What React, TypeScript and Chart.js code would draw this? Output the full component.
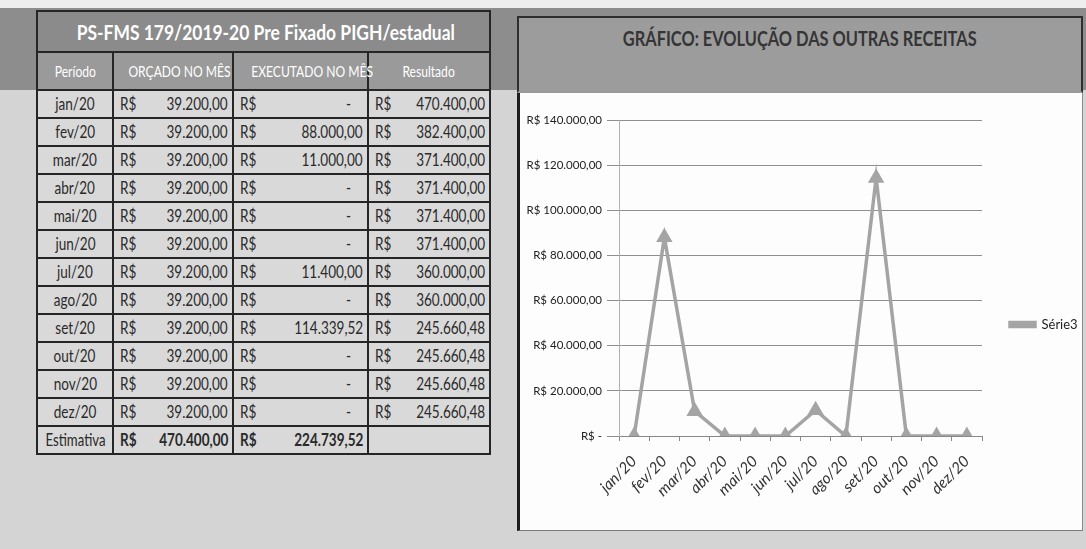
import React, { useEffect, useRef } from "react";
import { Chart, registerables } from "chart.js";

Chart.register(...registerables);

// ---------- data ----------
const months = ["jan/20", "fev/20", "mar/20", "abr/20", "mai/20", "jun/20", "jul/20", "ago/20", "set/20", "out/20", "nov/20", "dez/20"];
const orcado = [39200, 39200, 39200, 39200, 39200, 39200, 39200, 39200, 39200, 39200, 39200, 39200];
const executado = [0, 88000, 11000, 0, 0, 0, 11400, 0, 114339.52, 0, 0, 0];
const resultado = [470400, 382400, 371400, 371400, 371400, 371400, 360000, 360000, 245660.48, 245660.48, 245660.48, 245660.48];
const totalOrcado = 470400;
const totalExecutado = 224739.52;
const headers = ["Período", "ORÇADO NO MÊS", "EXECUTADO NO MÊS", "Resultado"];
const tableTitle = "PS-FMS 179/2019-20 Pre Fixado PIGH/estadual";
const chartTitle = "GRÁFICO: EVOLUÇÃO DAS OUTRAS RECEITAS";
const seriesName = "Série3";
const yMax = 140000;
const yStep = 20000;

const FONT = "Lato,'Noto Sans',sans-serif";
const LINE = "#a4a4a4";

function brl(n: number): string {
  const fixed = n.toFixed(2);
  const [i, d] = fixed.split(".");
  return i.replace(/\B(?=(\d{3})+(?!\d))/g, ".") + "," + d;
}

const LEGEND_W = 98;
const legendWidthPlugin = {
  id: "legendWidth",
  beforeLayout(chart: any) {
    const lg: any = chart.legend;
    if (lg && !lg._patchedW) {
      const orig = lg.fit.bind(lg);
      lg.fit = function () {
        orig();
        this.width = LEGEND_W;
      };
      lg._patchedW = true;
    }
  },
};

function LineChart() {
  const ref = useRef<HTMLCanvasElement | null>(null);
  useEffect(() => {
    if (!ref.current) return;
    const chart = new Chart(ref.current, {
      type: "line",
      data: {
        labels: months,
        datasets: [
          {
            label: seriesName,
            data: executado,
            borderColor: LINE,
            backgroundColor: LINE,
            borderWidth: 3.5,
            pointStyle: "triangle",
            pointRadius: 6,
            pointHoverRadius: 6,
            tension: 0,
          },
        ],
      },
      options: {
        animation: false,
        responsive: false,
        layout: { padding: { top: 25, right: 0, bottom: 0, left: 0 } },
        plugins: {
          legend: {
            position: "right",
            labels: {
              padding: 28,
              boxWidth: 25,
              boxHeight: 4,
              color: "#222",
              font: { size: 13, family: FONT },
            },
          },
          tooltip: { enabled: false },
        },
        scales: {
          x: {
            offset: true,
            grid: { offset: true, drawOnChartArea: false, drawTicks: true, tickLength: 5, color: "#888" },
            border: { color: "#888" },
            ticks: {
              minRotation: 45,
              maxRotation: 45,
              autoSkip: false,
              color: "#333",
              padding: 11,
              font: { size: 15.5, style: "italic", family: FONT },
            },
            afterFit: (s: any) => {
              s.height = 93;
            },
          },
          y: {
            min: 0,
            max: yMax,
            ticks: {
              stepSize: yStep,
              color: "#222",
              padding: 5,
              font: { size: 11.5, family: FONT },
              callback: (v: any) => (Number(v) === 0 ? "R$ -" : "R$ " + brl(Number(v))),
            },
            grid: { color: "#8f8f8f", tickLength: 12, drawTicks: true },
            border: { color: "#b0b0b0" },
            afterFit: (s: any) => {
              s.width = 99;
            },
          },
        },
      } as any,
      plugins: [legendWidthPlugin as any],
    });
    return () => chart.destroy();
  }, []);
  return <canvas ref={ref} width={560} height={434} style={{ display: "block" }} />;
}

function Sq({ children, sx, origin }: { children: any; sx: number; origin: string }) {
  return (
    <span style={{ display: "inline-block", transform: `scaleX(${sx})`, transformOrigin: origin, whiteSpace: "nowrap" }}>
      {children}
    </span>
  );
}

const cellBorder = "2px solid #262626";
const SX = 0.82;

function Money({ v, bold }: { v: number; bold?: boolean }) {
  return (
    <td style={{ border: cellBorder, padding: 0, background: "#d9d9d9" }}>
      <div style={{ display: "flex", justifyContent: "space-between", alignItems: "center", padding: "0 4px 0 6px", fontWeight: bold ? 700 : 400, whiteSpace: "nowrap" }}>
        <Sq sx={SX} origin="left center">R$</Sq>
        <span style={{ paddingRight: v === 0 ? 12 : 0 }}>
          <Sq sx={SX} origin="right center">{v === 0 ? "-" : brl(v)}</Sq>
        </span>
      </div>
    </td>
  );
}

function DataTable() {
  const rowH = 28;
  return (
    <table
      style={{
        position: "absolute",
        left: 36,
        top: 10,
        width: 453,
        borderCollapse: "collapse",
        tableLayout: "fixed",
        fontFamily: FONT,
        color: "#2a2a2a",
        fontSize: 16.5,
      }}
    >
      <colgroup>
        <col style={{ width: 76 }} />
        <col style={{ width: 120 }} />
        <col style={{ width: 135 }} />
        <col style={{ width: 122 }} />
      </colgroup>
      <tbody>
        <tr style={{ height: 41 }}>
          <td colSpan={4} style={{ border: cellBorder, background: "#8b8b8b", color: "#fff", fontWeight: 700, fontSize: 21, textAlign: "center", padding: 0, whiteSpace: "nowrap" }}>
            <Sq sx={0.83} origin="center center">{tableTitle}</Sq>
          </td>
        </tr>
        <tr style={{ height: 38 }}>
          {headers.map((h) => (
            <td key={h} style={{ border: cellBorder, background: "#9a9a9a", color: "#fff", fontSize: 15.5, textAlign: "center", padding: 0, whiteSpace: "nowrap" }}>
              <Sq sx={0.78} origin="center center">{h}</Sq>
            </td>
          ))}
        </tr>
        {months.map((m, i) => (
          <tr key={m} style={{ height: rowH }}>
            <td style={{ border: cellBorder, background: "#d9d9d9", textAlign: "center", padding: 0 }}>
              <Sq sx={SX} origin="center center">{m}</Sq>
            </td>
            <Money v={orcado[i]} />
            <Money v={executado[i]} />
            <Money v={resultado[i]} />
          </tr>
        ))}
        <tr style={{ height: rowH }}>
          <td style={{ border: cellBorder, background: "#d9d9d9", textAlign: "center", padding: 0, whiteSpace: "nowrap" }}>
            <Sq sx={0.8} origin="center center">Estimativa</Sq>
          </td>
          <Money v={totalOrcado} bold />
          <Money v={totalExecutado} bold />
          <td style={{ border: cellBorder, background: "#d9d9d9" }} />
        </tr>
      </tbody>
    </table>
  );
}

export default function App() {
  return (
    <div style={{ position: "absolute", left: 0, top: 0, width: 1086, height: 549, overflow: "hidden", background: "#d4d4d4", fontFamily: FONT }}>
      <div style={{ position: "absolute", left: 0, top: 0, width: 1086, height: 8, background: "#eeeeee" }} />
      <div style={{ position: "absolute", left: 0, top: 8, width: 1086, height: 82, background: "#8d8d8d" }} />
      <DataTable />
      {/* chart panel */}
      <div style={{ position: "absolute", left: 517, top: 16, width: 562, height: 40, background: "#9c9c9c", border: "2px solid #2e2e2e", display: "flex", alignItems: "center", justifyContent: "center" }}>
        <span style={{ fontWeight: 700, fontSize: 20, color: "#353535" }}>
          <Sq sx={0.82} origin="center center">{chartTitle}</Sq>
        </span>
      </div>
      <div style={{ position: "absolute", left: 517, top: 58, width: 562, height: 33, background: "#9c9c9c", borderLeft: "2px solid #2e2e2e", borderRight: "2px solid #2e2e2e", borderBottom: "2px solid #9a9a9a" }} />
      <div style={{ position: "absolute", left: 517, top: 93, width: 562, height: 437, background: "#fdfdfd", borderLeft: "3px solid #1e1e1e", borderRight: "1px solid #8a8a8a", borderBottom: "1px solid #7a7a7a" }} />
      <div style={{ position: "absolute", left: 520, top: 95, width: 560, height: 434 }}>
        <LineChart />
      </div>
    </div>
  );
}
